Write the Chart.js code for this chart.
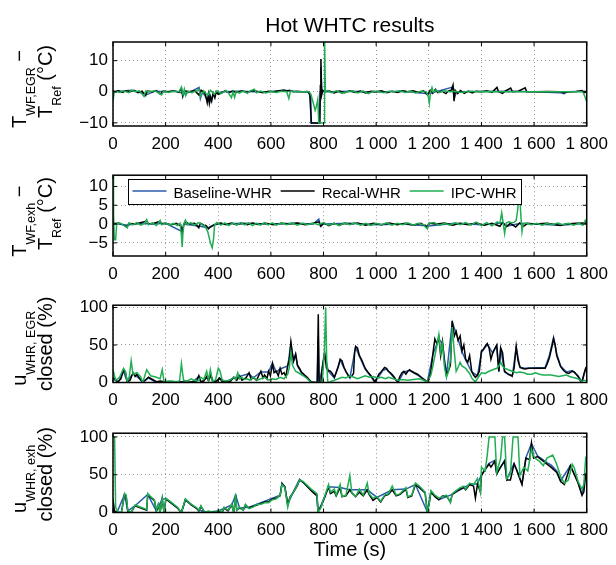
<!DOCTYPE html>
<html>
<head>
<meta charset="utf-8">
<script src="https://cdn.jsdelivr.net/npm/chart.js@4.4.1/dist/chart.umd.min.js"></script>
<style>
  body { margin: 0; background: #fff; }
  #wrap { position: relative; width: 616px; height: 565px; }
  #wrap canvas { position: absolute; left: 0; }
</style>
</head>
<body>
<div id="wrap">
  <canvas id="c1"></canvas>
  <canvas id="c2"></canvas>
  <canvas id="c3"></canvas>
  <canvas id="c4"></canvas>
</div>
<script>
// time axis ticks
const timeTicks = [0, 200, 400, 600, 800, 1000, 1200, 1400, 1600, 1800]
const timeTickLabels = ['0', '200', '400', '600', '800', '1 000', '1 200', '1 400', '1 600', '1 800']

const seriesNames = ['Baseline-WHR', 'Recal-WHR', 'IPC-WHR']

// T_WF,EGR - T_Ref  [time s, deg C]
const egrTempBaseline = [[0,0],[30,0.2],[70,0.5],[129,-0.9],[160,0.2],[200,0],[240,0.2],[270,-0.6],[300,0.2],[327,1.4],[332,-2.2],[340,0],[360,-2.8],[365,-0.5],[372,-3],[380,-1],[390,-0.5],[420,0],[480,0.2],[540,0],[600,0.1],[660,0.4],[700,0],[745,0],[750,-2],[752,-10],[784,-10],[787,0],[790,8],[793,0],[820,0],[900,0.2],[1000,-0.1],[1100,0.2],[1200,-0.6],[1290,1.5],[1297,-2],[1305,0],[1400,0.1],[1500,0.2],[1600,0],[1700,-0.3],[1714,-0.6],[1725,0],[1800,0.2]]
const egrTempRecal = [[0,0.3],[10,0],[20,0.4],[35,-0.2],[50,0.3],[65,0],[80,0.5],[95,-0.3],[110,0.2],[124,-1.2],[130,0.2],[150,0],[165,0.4],[180,-0.8],[190,0.2],[210,0],[230,0.3],[250,-0.2],[260,1.2],[265,-1.5],[272,0.3],[290,0],[310,0.4],[326,-1],[335,0.5],[350,-0.5],[358,-3.5],[362,-1],[366,-3.7],[370,-1.5],[375,-3],[380,-0.5],[387,-2],[392,0],[400,-0.8],[412,-0.4],[425,0.3],[440,-0.3],[455,0.2],[470,-0.2],[490,0.3],[510,-0.2],[530,0.4],[550,0.1],[570,-0.3],[590,0.2],[610,0],[630,0.3],[650,0.6],[660,0.2],[670,0.5],[685,0],[700,0.2],[720,0],[740,0.1],[748,-1],[754,-10],[786,-10],[788,2],[790,10.5],[793,-1],[797,0.5],[805,0],[820,0.3],[840,-0.4],[860,0.2],[880,-0.3],[900,0.3],[920,-0.2],[940,0.2],[960,-0.4],[980,0.2],[1000,0],[1020,0.3],[1040,-0.3],[1060,0.2],[1080,-0.2],[1100,0.3],[1120,0],[1140,0.3],[1160,-0.2],[1180,0.3],[1195,-1],[1205,0.5],[1215,-0.5],[1225,0.8],[1235,-0.3],[1250,0.2],[1265,-0.6],[1275,0.3],[1285,0.5],[1292,2.2],[1296,-3],[1300,0.5],[1310,-0.6],[1320,0.4],[1335,-0.5],[1350,0.2],[1365,-0.4],[1380,0.2],[1400,0],[1420,0.3],[1440,-0.2],[1459,1.4],[1465,0],[1480,-0.5],[1490,0.2],[1511,1.2],[1518,0],[1540,0.2],[1566,1.3],[1572,0],[1600,0],[1650,0.1],[1700,0],[1714,-0.3],[1730,0],[1760,0.1],[1782,0.4],[1790,-0.3],[1800,0]]
const egrTempIpc = [[0,-3],[4,-0.5],[10,0.2],[25,-0.2],[40,0.3],[60,-0.3],[71,0.5],[85,0],[100,0.3],[118,-1.5],[124,0.2],[140,0],[160,0.3],[185,-1],[192,0.3],[210,-0.2],[230,0.2],[250,0],[260,1.5],[266,-1],[271,0.8],[276,-1.3],[285,0.2],[300,-0.3],[315,0.3],[327,0.8],[333,-1.5],[345,0.3],[360,-1.2],[370,0.5],[385,-0.8],[395,0.3],[410,-0.6],[430,0.4],[440,-0.5],[450,-1.9],[456,0],[462,-1.8],[468,0.2],[480,-0.4],[495,0.3],[510,-0.5],[520,0.2],[537,0.8],[545,-0.3],[560,0.2],[580,-0.4],[600,0.1],[620,-0.2],[640,0.2],[660,0],[668,-2.2],[674,0.2],[690,0],[720,0],[745,0],[752,-0.8],[760,-3.3],[768,-6],[772,-5],[778,-2.5],[782,-10],[802,-10],[804,17],[807,0],[815,0.4],[830,-0.3],[850,0.3],[870,-0.5],[890,0],[910,0.3],[930,-0.4],[950,0.2],[970,-0.6],[990,0.2],[1010,0],[1030,-0.3],[1050,0.2],[1070,0],[1090,0.3],[1110,-0.2],[1130,0.2],[1150,-0.4],[1170,0.2],[1190,0],[1198,-1.5],[1202,-3.7],[1206,-0.5],[1212,1.4],[1218,-0.3],[1226,0.6],[1240,-0.2],[1260,0.3],[1280,0],[1300,0.2],[1320,-0.2],[1340,0],[1360,0.2],[1380,0],[1420,0.1],[1460,0],[1500,0],[1550,0],[1600,0],[1650,0],[1700,0],[1750,0],[1785,0],[1793,-1.5],[1800,-3.3]]

// T_WF,exh - T_Ref  [time s, deg C]
const exhTempBaseline = [[0,0.3],[50,-0.3],[100,0.2],[150,0],[200,0.2],[263,-2],[270,0],[330,-0.6],[360,-1],[380,-0.3],[400,0],[500,0.2],[600,0],[700,0.2],[760,0],[782,1.3],[788,-0.5],[800,0],[900,0.2],[1000,-0.2],[1100,0],[1200,-0.5],[1300,0.2],[1400,-0.2],[1480,0.3],[1500,-0.5],[1550,0.2],[1600,0],[1700,-0.3],[1800,0.2]]
const exhTempRecal = [[0,0.5],[5,0],[20,0.3],[40,-0.2],[54,-0.8],[60,0.2],[80,0],[100,0.3],[128,0.8],[135,0],[155,0.2],[179,0.7],[185,0],[200,0.2],[220,-0.2],[240,0.2],[258,-0.5],[263,-2.5],[268,-0.3],[275,0.6],[290,0],[310,0.2],[326,-1],[332,0.2],[345,-0.3],[355,-0.5],[363,-1.3],[370,-0.8],[380,-0.4],[390,0],[410,0.3],[430,-0.2],[450,0.3],[470,-0.2],[490,0.2],[510,-0.2],[530,0.3],[550,-0.1],[580,0.2],[610,-0.2],[640,0.2],[670,0],[700,0.3],[730,-0.2],[760,0.2],[782,0.6],[790,-0.6],[800,0.3],[820,-0.4],[840,0.2],[860,-0.3],[880,0.2],[900,0],[930,0.3],[960,-0.3],[990,0.2],[1020,-0.2],[1050,0.3],[1080,-0.2],[1110,0.2],[1140,-0.3],[1170,0.2],[1194,-0.8],[1200,0.2],[1230,0],[1260,0.3],[1290,-0.3],[1320,0.2],[1350,-0.2],[1380,0.3],[1410,-0.3],[1440,0.2],[1470,-0.6],[1480,0.4],[1495,-0.7],[1510,0.2],[1530,-0.8],[1545,0.3],[1560,-0.6],[1575,0.2],[1600,0],[1650,0.2],[1700,-0.4],[1720,0],[1760,0.2],[1800,0.3]]
const exhTempIpc = [[0,12.8],[2,3],[5,-4.2],[10,-4.2],[14,0],[25,0.3],[40,-0.3],[54,-1],[60,0.3],[75,-0.2],[90,0.4],[105,-0.3],[120,0.2],[128,1.2],[135,-0.2],[150,0.3],[165,-0.4],[179,1],[185,-0.2],[200,0.3],[215,-0.3],[230,0.2],[245,-0.4],[255,0.2],[260,-3],[263,-6.1],[266,-2],[270,0.2],[275,1],[282,-0.2],[295,0.4],[310,-0.3],[325,0.4],[340,-0.2],[350,-0.6],[360,-2],[370,-5],[377,-6.3],[382,-4],[386,-0.3],[395,0.4],[410,-0.3],[425,0.3],[440,-0.4],[455,0.3],[470,-0.3],[485,0.4],[500,-0.2],[515,0.3],[530,-0.4],[545,0.2],[560,-0.3],[575,0.4],[590,-0.2],[605,0.3],[620,-0.3],[640,0.3],[660,-0.2],[680,0.3],[700,-0.3],[720,0.2],[740,-0.2],[760,0.3],[780,-0.2],[800,0.4],[820,-0.3],[840,0.2],[860,-0.4],[880,0.3],[900,-0.2],[920,0.3],[940,-0.3],[960,0.2],[980,-0.4],[1000,0.2],[1020,-0.2],[1040,0.3],[1060,-0.3],[1080,0.2],[1100,-0.2],[1120,0.3],[1140,-0.3],[1160,0.2],[1180,-0.2],[1194,-1.3],[1200,0.2],[1220,0.4],[1240,-0.3],[1260,0.2],[1280,-0.3],[1300,0.3],[1320,-0.2],[1340,0.4],[1360,-0.3],[1380,0.5],[1400,-0.4],[1420,0.4],[1440,-0.5],[1460,0.6],[1470,0.2],[1477,3],[1482,0.5],[1488,-2.5],[1494,0.3],[1505,0.6],[1515,0.3],[1525,0.5],[1532,1],[1538,4],[1544,10],[1549,3],[1554,-2],[1558,0],[1570,0.3],[1590,-0.2],[1610,0.2],[1630,-0.3],[1650,0.2],[1670,-0.2],[1690,0.3],[1710,-0.2],[1730,0.2],[1750,-0.3],[1770,0.2],[1785,-0.3],[1795,1],[1800,0.5]]

// u_WHR,EGR closed  [time s, %]
const egrValveBaseline = [[0,5],[20,0],[40,15],[54,1],[76,12],[100,5],[113,0],[135,6],[165,0],[200,0],[250,1],[300,0],[326,8],[334,0],[356,6],[372,9],[380,0],[405,5],[429,1],[459,6],[481,8],[517,12],[532,6],[562,14],[591,14],[606,26],[620,14],[635,18],[664,22],[676,52],[686,28],[694,37],[701,22],[716,13],[738,6],[753,0],[776,0],[780,60],[783,0],[795,18],[804,38],[818,15],[841,6],[863,30],[885,14],[900,6],[922,47],[936,35],[958,18],[980,8],[995,0],[1025,16],[1039,18],[1069,6],[1083,0],[1105,14],[1127,16],[1157,10],[1194,0],[1216,38],[1238,58],[1252,52],[1267,10],[1289,80],[1304,66],[1326,41],[1340,30],[1363,14],[1385,9],[1400,40],[1422,51],[1443,39],[1458,49],[1466,14],[1473,45],[1488,14],[1517,8],[1532,47],[1546,20],[1565,19],[1642,20],[1658,36],[1674,60],[1686,38],[1701,22],[1723,14],[1745,16],[1767,9],[1782,1],[1796,18],[1800,16]]
const egrValveRecal = [[0,7],[18,1],[30,5],[40,17],[47,14],[54,1],[65,3],[76,13],[84,8],[91,11],[100,6],[113,1],[125,4],[135,7],[150,4],[165,1],[180,2],[194,1],[220,0],[250,1],[280,0],[300,1],[318,2],[326,9],[334,1],[345,2],[356,8],[363,2],[372,10],[380,1],[395,2],[405,6],[415,1],[429,2],[445,1],[459,7],[470,3],[481,9],[490,3],[505,6],[517,13],[525,4],[532,7],[545,3],[562,15],[570,6],[576,10],[585,5],[591,15],[598,9],[606,25],[612,13],[620,15],[628,9],[635,19],[642,11],[650,13],[657,8],[664,23],[670,30],[676,54],[681,40],[686,29],[694,38],[701,23],[710,18],[716,14],[728,10],[738,7],[745,4],[753,1],[767,0],[776,0],[780,91],[783,0],[790,0],[795,20],[800,31],[804,40],[808,28],[811,19],[818,16],[826,15],[833,12],[841,7],[850,15],[856,21],[863,31],[870,29],[878,20],[885,15],[893,10],[900,7],[908,9],[914,12],[918,40],[922,48],[929,46],[936,36],[944,31],[951,25],[958,19],[968,14],[980,9],[988,5],[995,1],[1003,6],[1010,11],[1018,14],[1025,17],[1032,20],[1039,19],[1046,15],[1054,13],[1062,10],[1069,7],[1076,3],[1083,1],[1090,8],[1098,13],[1105,15],[1113,11],[1120,15],[1127,17],[1135,15],[1145,13],[1157,11],[1168,8],[1179,5],[1187,3],[1194,1],[1201,5],[1208,15],[1216,40],[1223,58],[1230,52],[1238,60],[1245,36],[1252,54],[1260,25],[1267,11],[1275,16],[1282,23],[1289,82],[1297,62],[1304,68],[1311,56],[1319,62],[1326,42],[1333,50],[1340,31],[1348,27],[1355,36],[1363,15],[1370,10],[1377,7],[1385,10],[1392,15],[1400,42],[1407,44],[1414,48],[1422,52],[1429,46],[1436,31],[1443,40],[1450,45],[1458,50],[1466,15],[1473,46],[1480,40],[1488,15],[1495,13],[1502,11],[1510,10],[1517,9],[1524,19],[1532,48],[1539,29],[1546,21],[1554,19],[1565,18],[1580,19],[1600,19],[1620,19],[1642,19],[1650,25],[1658,33],[1666,45],[1674,58],[1680,50],[1686,36],[1694,28],[1701,21],[1712,16],[1723,13],[1732,12],[1745,15],[1752,14],[1760,11],[1767,8],[1774,3],[1782,0],[1789,11],[1796,19],[1800,17]]
const egrValveIpc = [[0,17],[10,3],[25,7],[40,19],[47,15],[54,1],[62,8],[69,29],[76,11],[91,13],[106,7],[113,0],[128,17],[143,9],[165,7],[179,5],[187,17],[194,1],[210,2],[223,2],[240,1],[253,2],[260,25],[268,3],[282,2],[297,5],[312,2],[326,3],[334,7],[345,4],[356,15],[363,3],[370,17],[378,1],[390,4],[400,19],[407,15],[415,3],[430,2],[444,3],[459,7],[466,4],[474,13],[481,5],[488,7],[500,4],[510,5],[520,3],[532,7],[547,3],[562,5],[576,7],[591,3],[606,5],[620,4],[635,7],[650,5],[664,11],[670,20],[676,40],[682,23],[694,15],[709,12],[723,9],[738,5],[753,0],[795,0],[803,40],[808,100],[812,30],[816,0],[825,1],[841,3],[856,5],[870,7],[885,6],[900,9],[915,7],[929,5],[944,7],[958,9],[975,7],[990,8],[1005,6],[1020,7],[1035,5],[1047,7],[1065,5],[1083,3],[1100,4],[1120,3],[1140,4],[1164,5],[1180,3],[1194,1],[1208,10],[1216,23],[1230,48],[1238,64],[1245,40],[1252,52],[1260,19],[1267,7],[1275,15],[1282,30],[1289,74],[1297,40],[1304,15],[1311,20],[1319,27],[1326,22],[1340,19],[1348,15],[1355,12],[1365,5],[1377,1],[1390,8],[1400,13],[1414,12],[1429,15],[1443,17],[1458,19],[1466,22],[1473,27],[1480,22],[1488,19],[1502,17],[1517,15],[1532,13],[1546,14],[1561,13],[1575,11],[1590,11],[1605,13],[1620,11],[1635,10],[1650,10],[1664,10],[1680,9],[1693,8],[1708,9],[1723,10],[1735,8],[1745,7],[1756,6],[1767,5],[1775,3],[1782,1],[1789,3],[1800,2]]

// u_WHR,exh closed  [time s, %]
const exhValveBaseline = [[0,17],[5,2],[15,0],[44,24],[56,2],[84,9],[132,24],[165,2],[187,18],[201,18],[245,6],[260,0],[275,17],[319,5],[348,0],[400,2],[451,10],[466,23],[481,6],[517,7],[562,13],[606,19],[635,23],[642,39],[653,34],[664,11],[686,28],[709,44],[753,30],[775,23],[779,1],[804,20],[819,34],[863,33],[900,30],[966,30],[1003,20],[1061,30],[1113,31],[1149,37],[1194,1],[1208,27],[1238,17],[1289,24],[1333,33],[1355,37],[1385,38],[1400,50],[1429,65],[1451,69],[1458,52],[1488,69],[1496,44],[1524,65],[1554,38],[1569,73],[1590,91],[1613,75],[1649,66],[1664,63],[1686,55],[1701,42],[1738,62],[1767,40],[1782,24],[1796,50],[1800,49]]
const exhValveRecal = [[0,17],[5,2],[15,0],[32,0],[44,24],[50,22],[56,2],[69,0],[84,9],[106,6],[128,3],[132,24],[143,20],[157,16],[165,2],[172,10],[179,0],[187,18],[194,0],[201,18],[223,12],[245,6],[260,0],[275,17],[297,10],[319,5],[326,2],[334,8],[348,0],[363,1],[385,0],[400,2],[415,0],[422,6],[437,2],[451,10],[459,0],[466,23],[470,3],[481,6],[495,3],[503,10],[517,6],[532,8],[547,10],[562,12],[576,14],[591,14],[606,18],[620,19],[635,22],[642,38],[653,34],[664,10],[672,20],[686,27],[701,36],[709,43],[723,40],[753,29],[775,22],[779,1],[791,8],[797,14],[804,20],[819,34],[826,25],[841,28],[848,22],[863,33],[870,21],[885,22],[900,30],[907,26],[922,21],[936,27],[951,22],[966,30],[973,24],[988,16],[1003,20],[1017,14],[1032,22],[1047,24],[1061,30],[1076,22],[1091,24],[1113,31],[1120,20],[1135,22],[1149,37],[1164,33],[1186,26],[1194,1],[1201,11],[1208,27],[1223,21],[1238,17],[1252,22],[1267,22],[1282,14],[1289,24],[1304,28],[1319,31],[1333,33],[1340,30],[1355,37],[1370,35],[1377,19],[1385,38],[1396,27],[1400,49],[1414,57],[1429,64],[1436,60],[1451,68],[1458,51],[1473,60],[1488,68],[1496,43],[1510,43],[1524,64],[1532,58],[1554,37],[1569,72],[1583,70],[1590,92],[1598,72],[1613,74],[1635,68],[1649,64],[1664,60],[1686,53],[1701,41],[1715,37],[1738,62],[1752,51],[1767,39],[1782,23],[1789,27],[1796,51],[1800,50]]
const exhValveIpc = [[0,100],[6,100],[10,7],[18,1],[32,0],[44,25],[50,23],[56,3],[69,0],[84,10],[106,7],[128,4],[132,25],[143,21],[157,17],[165,3],[172,11],[179,0],[187,19],[194,0],[201,19],[223,13],[245,7],[260,0],[275,18],[297,11],[319,6],[326,3],[334,9],[348,0],[363,2],[385,0],[400,3],[415,1],[422,7],[437,3],[451,11],[459,0],[466,25],[470,3],[481,7],[495,3],[503,11],[517,5],[532,7],[547,11],[562,11],[576,13],[591,13],[606,17],[620,18],[635,23],[642,37],[653,33],[664,7],[672,19],[686,27],[701,37],[709,43],[723,41],[753,31],[775,25],[779,0],[791,7],[797,15],[804,21],[819,37],[826,27],[841,31],[848,23],[863,37],[870,21],[885,23],[900,49],[907,27],[922,21],[936,31],[951,23],[966,39],[973,25],[988,19],[1003,21],[1017,15],[1032,23],[1047,25],[1061,35],[1076,23],[1091,25],[1113,33],[1120,21],[1135,23],[1149,39],[1164,35],[1186,27],[1194,0],[1201,11],[1208,29],[1223,23],[1238,19],[1252,21],[1267,23],[1282,13],[1289,25],[1304,29],[1319,33],[1333,35],[1340,31],[1355,39],[1370,37],[1385,45],[1396,27],[1400,60],[1414,55],[1422,76],[1429,100],[1451,100],[1458,53],[1473,72],[1480,100],[1488,100],[1496,45],[1510,51],[1520,100],[1539,100],[1546,49],[1561,60],[1576,55],[1590,84],[1602,72],[1620,68],[1635,62],[1649,72],[1671,76],[1686,64],[1701,47],[1715,39],[1730,43],[1745,64],[1752,60],[1767,41],[1782,31],[1789,37],[1796,72],[1800,70]]

const colors = ['#2a5cac', '#000000', '#1fae52']
const FONT = "'Liberation Sans', Arial, Helvetica, sans-serif"

Chart.defaults.font.family = FONT
Chart.defaults.color = '#000'

// y axis label pieces: [text, kind] where kind is n / sub
const panels = [
    {
        id: 'c1', canvasTop: 0, canvasBottom: 160, plotTop: 42, plotBottom: 126,
        ymin: -11, ymax: 16, yTicks: [-10, 0, 10],
        series: [egrTempBaseline, egrTempRecal, egrTempIpc],
        ylabel: [[['T', 'n'], ['WF,EGR', 'sub'], [' \u2212', 'n']], [['T', 'n'], ['Ref', 'sub'], [' (\u00b0C)', 'n']]],
        shift: [5, -2.5],
        title: 'Hot WHTC results'
    },
    {
        id: 'c2', canvasTop: 160, canvasBottom: 290, plotTop: 171, plotBottom: 256,
        ymin: -8.5, ymax: 13, yTicks: [-5, 0, 5, 10],
        series: [exhTempBaseline, exhTempRecal, exhTempIpc],
        ylabel: [[['T', 'n'], ['WF,exh', 'sub'], [' \u2212', 'n']], [['T', 'n'], ['Ref', 'sub'], [' (\u00b0C)', 'n']]],
        shift: [5.5, -2],
        legend: true
    },
    {
        id: 'c3', canvasTop: 290, canvasBottom: 420, plotTop: 298.5, plotBottom: 382.5,
        ymin: 0, ymax: 103, yTicks: [0, 50, 100],
        series: [egrValveBaseline, egrValveRecal, egrValveIpc],
        ylabel: [[['u', 'n'], ['WHR, EGR', 'sub']], [['closed (%)', 'n']]],
        shift: [4.5, 0]
    },
    {
        id: 'c4', canvasTop: 418, canvasBottom: 565, plotTop: 426, plotBottom: 512.5,
        ymin: 0, ymax: 105, yTicks: [0, 50, 100],
        series: [exhValveBaseline, exhValveRecal, exhValveIpc],
        ylabel: [[['u', 'n'], ['WHR, exh', 'sub']], [['closed (%)', 'n']]],
        shift: [6, 1.5],
        xtitle: 'Time (s)'
    }
]

const PLOT_LEFT = 113
const PLOT_RIGHT = 593.5
const labelBase = [26, 52]

function drawRich(ctx, parts, cx, cy) {
    // rotated label, centred on (cx, cy), baseline at cx
    const fonts = { n: `20px ${FONT}`, sub: `12.5px ${FONT}` }
    let w = 0
    parts.forEach(p => { ctx.font = fonts[p[1]]; w += ctx.measureText(p[0]).width })
    ctx.save()
    ctx.translate(cx, cy)
    ctx.rotate(-Math.PI / 2)
    ctx.textBaseline = 'alphabetic'
    ctx.textAlign = 'left'
    let x = -w / 2
    parts.forEach(p => {
        ctx.font = fonts[p[1]]
        ctx.fillText(p[0], x, p[1] === 'sub' ? 9 : 0)
        x += ctx.measureText(p[0]).width
    })
    ctx.restore()
}

// legend box inside the second panel, entries spread across the box
function drawLegend(ctx, chart, top) {
    const bx = 128.5, by = top, bw = 393, bh = 25
    const lineLen = 34, textGap = 7
    ctx.fillStyle = '#fff'
    ctx.fillRect(bx, by, bw, bh)
    ctx.strokeStyle = '#000'
    ctx.lineWidth = 1
    ctx.strokeRect(bx, by, bw, bh)
    ctx.font = `15px ${FONT}`
    ctx.textBaseline = 'alphabetic'
    ctx.textAlign = 'left'
    const sets = chart.data.datasets
    const widths = sets.map(ds => ctx.measureText(ds.label).width)
    const used = widths.reduce((s, w) => s + w + lineLen + textGap, 0)
    const gap = (bw - 9 - used) / (sets.length - 1)
    let x = bx + 4
    sets.forEach((ds, i) => {
        ctx.strokeStyle = ds.borderColor
        ctx.lineWidth = 1.5
        ctx.beginPath()
        ctx.moveTo(x, by + 11.5)
        ctx.lineTo(x + lineLen, by + 11.5)
        ctx.stroke()
        ctx.fillStyle = '#000'
        ctx.fillText(ds.label, x + lineLen + textGap, by + 18)
        x += lineLen + textGap + widths[i] + gap
    })
}

const framePlugin = {
    id: 'frame',
    afterDatasetsDraw(chart, args, opts) {
        const { ctx, chartArea: a, scales: { x, y } } = chart
        const p = opts.panel
        ctx.save()
        ctx.strokeStyle = '#000'
        ctx.lineWidth = 1
        ctx.beginPath()
        x.ticks.forEach(t => {
            const px = x.getPixelForValue(t.value)
            ctx.moveTo(px, a.bottom); ctx.lineTo(px, a.bottom - 4)
            ctx.moveTo(px, a.top); ctx.lineTo(px, a.top + 4)
        })
        y.ticks.forEach(t => {
            const py = y.getPixelForValue(t.value)
            ctx.moveTo(a.left, py); ctx.lineTo(a.left + 4, py)
            ctx.moveTo(a.right, py); ctx.lineTo(a.right - 4, py)
        })
        ctx.stroke()
        ctx.lineWidth = 1.5
        ctx.strokeRect(a.left, a.top, a.right - a.left, a.bottom - a.top)

        if (p.legend) drawLegend(ctx, chart, 179.5 - p.canvasTop)

        ctx.fillStyle = '#000'
        const cy = (a.top + a.bottom) / 2
        p.ylabel.forEach((line, i) => drawRich(ctx, line, labelBase[i], cy + p.shift[i]))

        const midX = (a.left + a.right) / 2
        ctx.textAlign = 'center'
        if (p.title) {
            ctx.font = `21px ${FONT}`
            ctx.fillText(p.title, midX, 31.5)
        }
        if (p.xtitle) {
            ctx.font = `20px ${FONT}`
            ctx.fillText(p.xtitle, midX, 556 - p.canvasTop)
        }
        ctx.restore()
    }
}

panels.forEach(p => {
    const canvas = document.getElementById(p.id)
    const h = p.canvasBottom - p.canvasTop
    canvas.width = 616
    canvas.height = h
    canvas.style.top = p.canvasTop + 'px'

    new Chart(canvas, {
        type: 'line',
        data: {
            datasets: p.series.map((s, i) => ({
                label: seriesNames[i],
                data: s,
                borderColor: colors[i],
                borderWidth: 1.5,
                pointRadius: 0,
                tension: 0,
                fill: false,
                order: 3 - i
            }))
        },
        options: {
            responsive: false,
            animation: false,
            events: [],
            layout: {
                padding: { top: p.plotTop - p.canvasTop, left: 0, right: 616 - PLOT_RIGHT, bottom: 0 }
            },
            plugins: {
                legend: { display: false },
                tooltip: { enabled: false },
                frame: { panel: p }
            },
            scales: {
                x: {
                    type: 'linear',
                    min: 0,
                    max: 1800,
                    afterBuildTicks: ax => { ax.ticks = timeTicks.map(v => ({ value: v })) },
                    afterFit: ax => { ax.height = p.canvasBottom - p.plotBottom },
                    ticks: {
                        font: { size: 17 },
                        padding: 8,
                        maxRotation: 0,
                        autoSkip: false,
                        callback: (v, i) => timeTickLabels[i]
                    },
                    grid: { color: '#9a9a9a', lineWidth: 1, drawTicks: false },
                    border: { display: false, dash: [1, 3] }
                },
                y: {
                    min: p.ymin,
                    max: p.ymax,
                    afterBuildTicks: ax => { ax.ticks = p.yTicks.map(v => ({ value: v })) },
                    afterFit: ax => { ax.width = PLOT_LEFT },
                    ticks: {
                        font: { size: 17 },
                        padding: 5,
                        autoSkip: false,
                        callback: v => (v < 0 ? '\u2212' + Math.abs(v) : String(v))
                    },
                    grid: { color: '#9a9a9a', lineWidth: 1, drawTicks: false },
                    border: { display: false, dash: [1, 3] }
                }
            }
        },
        plugins: [framePlugin]
    })
})
</script>
</body>
</html>
